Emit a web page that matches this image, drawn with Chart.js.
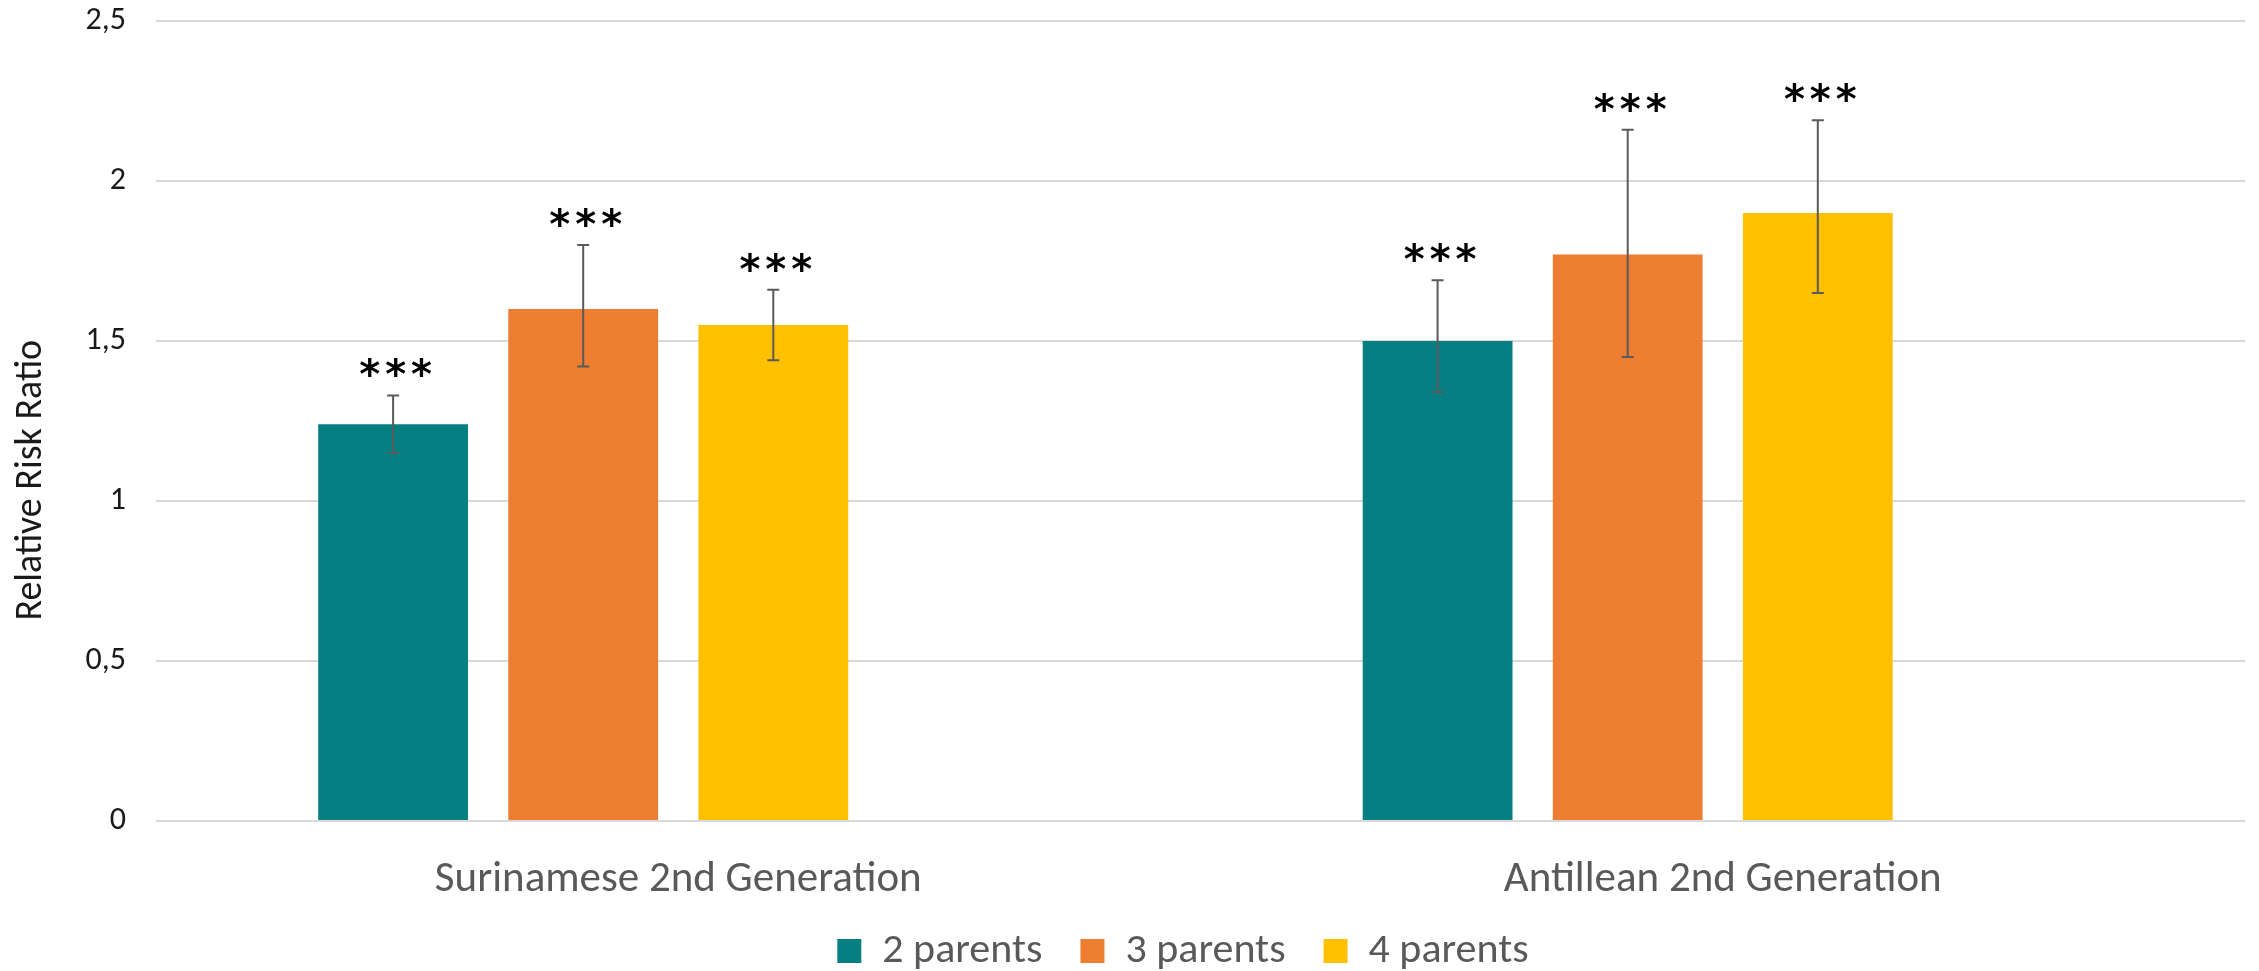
<!DOCTYPE html>
<html>
<head>
<meta charset="utf-8">
<script src="https://cdn.jsdelivr.net/npm/chart.js@4.4.1/dist/chart.umd.min.js"></script>
<style>
    html, body { margin: 0; padding: 0; background: #fff; }
</style>
</head>
<body>
<canvas id="chart" width="2259" height="971"></canvas>
<script>
// Données
const categories = ['Surinamese 2nd Generation', 'Antillean 2nd Generation'];
const seriesNames = ['2 parents', '3 parents', '4 parents'];
const twoParents = [1.24, 1.50];
const threeParents = [1.60, 1.77];
const fourParents = [1.55, 1.90];
// intervalles de confiance [bas, haut]
const twoParentsCI = [[1.15, 1.33], [1.34, 1.69]];
const threeParentsCI = [[1.42, 1.80], [1.45, 2.16]];
const fourParentsCI = [[1.44, 1.66], [1.65, 2.19]];
const significance = [['***', '***'], ['***', '***'], ['***', '***']];
const yTicks = [0, 0.5, 1, 1.5, 2, 2.5];
const yTitle = 'Relative Risk Ratio';

const colors = ['#067F83', '#ED7D31', '#FFC000'];
const labelFont = 'Carlito, Lato, "Open Sans", sans-serif';

// Barres d'erreur + étoiles
const errorBars = {
    id: 'errorBars',
    afterDatasetsDraw(chart) {
        const ctx = chart.ctx;
        const yScale = chart.scales.y;
        chart.data.datasets.forEach((ds, i) => {
            if (!ds.ci) return;
            const meta = chart.getDatasetMeta(i);
            meta.data.forEach((bar, j) => {
                const yLo = yScale.getPixelForValue(ds.ci[j][0]);
                const yHi = yScale.getPixelForValue(ds.ci[j][1]);
                ctx.save();
                ctx.strokeStyle = '#5a5a5a';
                ctx.lineWidth = 2;
                ctx.beginPath();
                ctx.moveTo(bar.x, yLo);
                ctx.lineTo(bar.x, yHi);
                ctx.moveTo(bar.x - 6, yHi);
                ctx.lineTo(bar.x + 6, yHi);
                ctx.moveTo(bar.x - 6, yLo);
                ctx.lineTo(bar.x + 6, yLo);
                ctx.stroke();

                ctx.fillStyle = '#000';
                ctx.font = 'bold 40px "DejaVu Sans"';
                ctx.letterSpacing = '5px';
                ctx.textAlign = 'center';
                ctx.textBaseline = 'alphabetic';
                ctx.fillText(ds.stars[j], bar.x + 5, yHi - 7);
                ctx.restore();
            });
        });
    }
};

// Titre de l'axe Y
const axisTitle = {
    id: 'axisTitle',
    afterDraw(chart) {
        const ctx = chart.ctx;
        const area = chart.chartArea;
        ctx.save();
        ctx.translate(31, area.top + area.height * 0.574);
        ctx.rotate(-Math.PI / 2);
        ctx.fillStyle = '#1a1a1a';
        ctx.font = '38px ' + labelFont;
        ctx.textAlign = 'center';
        ctx.textBaseline = 'middle';
        ctx.fillText(yTitle, 0, 0);
        ctx.restore();
    }
};

const seriesValues = [twoParents, threeParents, fourParents];
const seriesCI = [twoParentsCI, threeParentsCI, fourParentsCI];

const datasets = seriesNames.map((name, i) => ({
    label: name,
    data: seriesValues[i],
    ci: seriesCI[i],
    stars: significance[i],
    backgroundColor: colors[i],
    borderWidth: 0
}));
// emplacement vide (4e série) comme dans l'original
datasets.push({ label: '', data: [null, null], backgroundColor: 'rgba(0,0,0,0)', borderWidth: 0 });

new Chart(document.getElementById('chart'), {
    type: 'bar',
    data: { labels: categories, datasets: datasets },
    options: {
        responsive: false,
        animation: false,
        barPercentage: 0.788,
        categoryPercentage: 0.728,
        layout: { padding: { left: 38, right: 14, top: 21, bottom: -11 } },
        plugins: {
            legend: {
                position: 'bottom',
                labels: {
                    // la série vide passe en premier (case invisible)
                    sort: (a, b) => (a.text === '' ? -1 : b.text === '' ? 1 : a.datasetIndex - b.datasetIndex),
                    boxWidth: 24,
                    boxHeight: 24,
                    padding: 38,
                    color: '#595959',
                    font: { family: labelFont, size: 42 }
                }
            },
            tooltip: { enabled: false }
        },
        scales: {
            x: {
                grid: { display: false },
                border: { display: false },
                ticks: {
                    color: '#595959',
                    padding: 25,
                    font: { family: labelFont, size: 43 }
                },
                afterFit: scale => { scale.height = 71; }
            },
            y: {
                min: 0,
                max: 2.5,
                afterBuildTicks: scale => { scale.ticks = yTicks.map(v => ({ value: v })); },
                grid: { color: '#d9d9d9', lineWidth: 2, drawTicks: true, tickLength: 30, tickColor: 'rgba(0,0,0,0)' },
                border: { display: false },
                ticks: {
                    padding: 0,
                    color: '#1a1a1a',
                    font: { family: labelFont, size: 32 },
                    callback: v => String(v).replace('.', ',')
                },
                afterFit: scale => { scale.width = 118; }
            }
        }
    },
    plugins: [errorBars, axisTitle]
});
</script>
</body>
</html>
